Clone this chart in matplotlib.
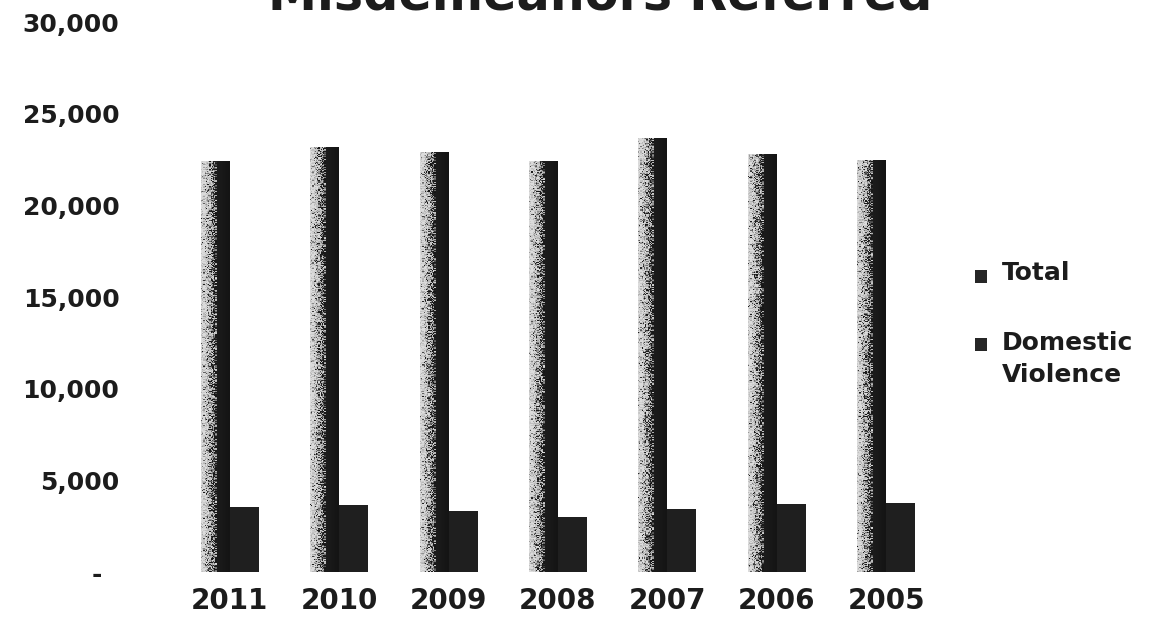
import numpy as np
import matplotlib
matplotlib.use('Agg')
import matplotlib.pyplot as plt
from matplotlib.colors import LinearSegmentedColormap
from matplotlib.patches import Rectangle
from matplotlib.ticker import FuncFormatter

plt.rcParams['font.family'] = ['DejaVu Sans']

# Misdemeanors referred per year
years = ['2011', '2010', '2009', '2008', '2007', '2006', '2005']
total = [22400, 23200, 22900, 22400, 23700, 22800, 22500]
domestic = [3560, 3670, 3340, 3020, 3450, 3720, 3780]
series = ['Total', 'Domestic\nViolence']

ink = '#1c1c1c'
fig = plt.figure(figsize=(11.63, 6.29), dpi=100)
ax = fig.add_axes([0.1505, 0.0906, 0.6585, 0.8744])

x = np.arange(len(years))
w = 0.265
tot_bars = ax.bar(x - w / 2, total, w, color='none', edgecolor='none')
dv_bars = ax.bar(x + w / 2, domestic, w, color='#1f1f1f', edgecolor='none')

# light-to-dark shading on the total bars, with a grainy print texture
cmap = LinearSegmentedColormap.from_list(
    'shade', [(0, '#dcdcdc'), (0.3, '#b4b4b4'), (0.45, '#5a5a5a'), (0.55, '#1c1c1c'), (1, '#141414')])
rng = np.random.default_rng(7)
for bar in tot_bars:
    x0, y0 = bar.get_x(), bar.get_y()
    x1, y1 = x0 + bar.get_width(), y0 + bar.get_height()
    grad = np.tile(np.linspace(0, 1, 24), (420, 1))
    grad = np.clip(grad + rng.normal(0, 0.2, grad.shape) * (grad < 0.55), 0, 1)
    im = ax.imshow(grad, extent=[x0, x1, y0, y1], aspect='auto', cmap=cmap,
                   vmin=0, vmax=1, interpolation='nearest', zorder=2)
    im.set_clip_path(bar)

ax.set_xlim(-0.5, len(years) - 0.5)
ax.set_ylim(0, 30000)
ax.set_yticks(range(0, 30001, 5000))
ax.yaxis.set_major_formatter(FuncFormatter(lambda v, p: '-  ' if v == 0 else f'{int(v):,}'))
ax.set_xticks(x)
ax.set_xticklabels(years)
ax.tick_params(axis='y', length=0, pad=40, labelsize=18, labelcolor=ink)
ax.tick_params(axis='x', length=0, pad=11, labelsize=20, labelcolor=ink)
for lab in ax.get_xticklabels() + ax.get_yticklabels():
    lab.set_fontweight('bold')
for s in ax.spines.values():
    s.set_visible(False)

fig.text(0.516, 1 - 9 / 629, 'Misdemeanors Referred', ha='center', va='baseline',
         fontsize=35.5, fontweight='bold', color=ink)

# legend keys and labels on the right
W, H = 1163, 629
for (ky, ty), lab in zip([(270, 265), (338, 335)], series):
    fig.patches.append(Rectangle((975 / W, 1 - (ky + 13) / H), 12 / W, 13 / H,
                                 transform=fig.transFigure, facecolor='#262626',
                                 edgecolor='none'))
    fig.text(1002 / W, 1 - (ty - 4) / H, lab, ha='left', va='top', fontsize=18,
             fontweight='bold', color=ink, linespacing=1.4)

fig.savefig('out.png', dpi=100)
